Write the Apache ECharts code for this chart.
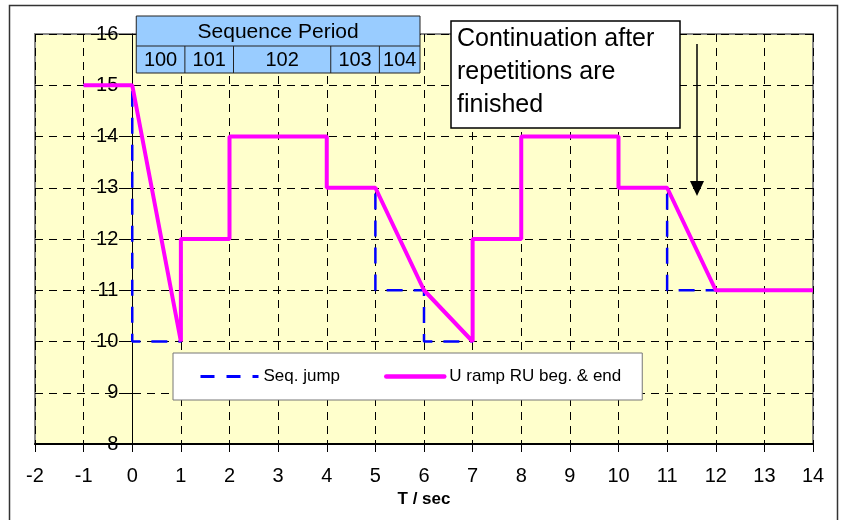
<!DOCTYPE html>
<html>
<head>
<meta charset="utf-8">
<script src="https://cdn.jsdelivr.net/npm/echarts@6/dist/echarts.min.js"></script>
<style>
  html, body { margin: 0; background: #fff; }
  #chart { width: 842px; height: 520px; }
</style>
</head>
<body>
<div id="chart"></div>
<script>
// data
const seqJumpX = [-1, 0, 0, 1, 1, 2, 2, 4, 4, 5, 5, 6, 6, 7, 7, 8, 8, 10, 10, 11, 11, 14];
const seqJumpY = [15, 15, 10, 10, 12, 12, 14, 14, 13, 13, 11, 11, 10, 10, 12, 12, 14, 14, 13, 13, 11, 11];
const rampX = [-1, 0, 1, 1, 2, 2, 4, 4, 5, 6, 7, 7, 8, 8, 10, 10, 11, 12, 14];
const rampY = [15, 15, 10, 12, 12, 14, 14, 13, 13, 11, 10, 12, 12, 14, 14, 13, 13, 11, 11];
const periodBounds = [0, 1, 2, 4, 5, 6];
const periodLabels = ['100', '101', '102', '103', '104'];
const noteLines = ['Continuation after', 'repetitions are', 'finished'];

const font = '"Liberation Sans", Arial, sans-serif';
const zip = (xs, ys) => xs.map((x, i) => [x, ys[i]]);

// grid geometry, y axis sits at x = 0
const gridLeft = 35, gridRight = 29, xMin = -2, xMax = 14;
const unitW = (842 - gridLeft - gridRight) / (xMax - xMin);
const yAxisOffset = -(0 - xMin) * unitW;

const jumpLine = { color: '#0000FF', width: 2.5, type: [16, 11] };
const rampLine = { color: '#FF00FF', width: 4 };

const chart = echarts.init(document.getElementById('chart'));
chart.setOption({
  animation: false,
  backgroundColor: '#fff',
  textStyle: { fontFamily: font },
  grid: {
    left: gridLeft, right: gridRight, top: 34, bottom: 76,
    show: true, backgroundColor: '#FFFFCC', borderColor: '#888', borderWidth: 2
  },
  legend: {
    left: 173, top: 353,
    padding: [15, 21, 15, 26],
    backgroundColor: '#fff', borderColor: '#777', borderWidth: 1,
    itemGap: 44, itemWidth: 58, itemHeight: 12,
    itemStyle: { opacity: 0 },
    textStyle: { fontSize: 17, color: '#000', fontFamily: font },
    data: [
      { name: 'Seq. jump', lineStyle: { color: '#0000FF', width: 3, type: [14, 12] } },
      { name: 'U ramp RU beg. & end', lineStyle: { color: '#FF00FF', width: 4.5, cap: 'round' } }
    ]
  },
  xAxis: {
    type: 'value', min: xMin, max: xMax, interval: 1,
    name: 'T / sec', nameLocation: 'middle', nameGap: 45,
    nameTextStyle: { fontSize: 17, fontWeight: 'bold', color: '#000', fontFamily: font },
    axisLine: { lineStyle: { color: '#000', width: 2 } },
    axisTick: { length: 8, lineStyle: { color: '#000' } },
    axisLabel: { fontSize: 20, color: '#000', margin: 22, fontFamily: font },
    splitLine: { lineStyle: { color: '#000', type: [8, 6], width: 1 } }
  },
  yAxis: {
    type: 'value', min: 8, max: 16, interval: 1,
    offset: yAxisOffset,
    axisLine: { onZero: false, lineStyle: { color: '#000', width: 1 } },
    axisTick: { show: true, length: 6, lineStyle: { color: '#000' } },
    axisLabel: { fontSize: 20, color: '#000', margin: 14, fontFamily: font },
    splitLine: { lineStyle: { color: '#000', type: [8, 6], width: 1 } }
  },
  series: [
    {
      name: 'Seq. jump', type: 'line', symbol: 'none', z: 3,
      data: zip(seqJumpX, seqJumpY),
      lineStyle: jumpLine,
      itemStyle: { color: '#0000FF' }
    },
    {
      name: 'U ramp RU beg. & end', type: 'line', symbol: 'none', z: 4,
      data: zip(rampX, rampY),
      lineStyle: rampLine,
      itemStyle: { color: '#FF00FF' }
    }
  ]
});

// annotations: period table above the plot, note box, arrow, outer frame
const px = (x) => chart.convertToPixel({ gridIndex: 0 }, [x, 8])[0];
const tLeft = px(periodBounds[0]) + 4;
const tRight = px(periodBounds[periodBounds.length - 1]) - 4;
const tTop = 16, tMid = 46, tBot = 73;
const g = [];
g.push({
  type: 'rect', z: 100,
  shape: { x: tLeft, y: tTop, width: tRight - tLeft, height: tBot - tTop },
  style: { fill: '#99CCFF', stroke: '#222', lineWidth: 1 }
});
g.push({
  type: 'line', z: 101,
  shape: { x1: tLeft, y1: tMid, x2: tRight, y2: tMid },
  style: { stroke: '#222', lineWidth: 1 }
});
g.push({
  type: 'text', z: 102, x: (tLeft + tRight) / 2, y: (tTop + tMid) / 2 + 1,
  style: { text: 'Sequence Period', font: '21px ' + font, fill: '#000', align: 'center', verticalAlign: 'middle' }
});
periodLabels.forEach((lab, i) => {
  const a = i === 0 ? tLeft : px(periodBounds[i]) + 4;
  const b = i === periodLabels.length - 1 ? tRight : px(periodBounds[i + 1]) + 4;
  if (i > 0) {
    g.push({
      type: 'line', z: 101,
      shape: { x1: a, y1: tMid, x2: a, y2: tBot },
      style: { stroke: '#222', lineWidth: 1 }
    });
  }
  g.push({
    type: 'text', z: 102, x: (a + b) / 2, y: (tMid + tBot) / 2 + 1,
    style: { text: lab, font: '20px ' + font, fill: '#000', align: 'center', verticalAlign: 'middle' }
  });
});

g.push({
  type: 'rect', z: 100,
  shape: { x: 451, y: 21, width: 229, height: 107 },
  style: { fill: '#fff', stroke: '#000', lineWidth: 1.5 }
});
noteLines.forEach((t, i) => {
  g.push({
    type: 'text', z: 102, x: 457, y: 39 + i * 33,
    style: { text: t, font: '25px ' + font, fill: '#000', align: 'left', verticalAlign: 'middle' }
  });
});

g.push({
  type: 'line', z: 100,
  shape: { x1: 697, y1: 44, x2: 697, y2: 183 },
  style: { stroke: '#000', lineWidth: 1.5 }
});
g.push({
  type: 'polygon', z: 100,
  shape: { points: [[690, 181], [704, 181], [697, 196]] },
  style: { fill: '#000' }
});

g.push({
  type: 'rect', z: 0, silent: true,
  shape: { x: 9.5, y: 5.5, width: 828, height: 540 },
  style: { fill: 'none', stroke: '#333', lineWidth: 1.5 }
});

chart.setOption({ graphic: g });
</script>
</body>
</html>
